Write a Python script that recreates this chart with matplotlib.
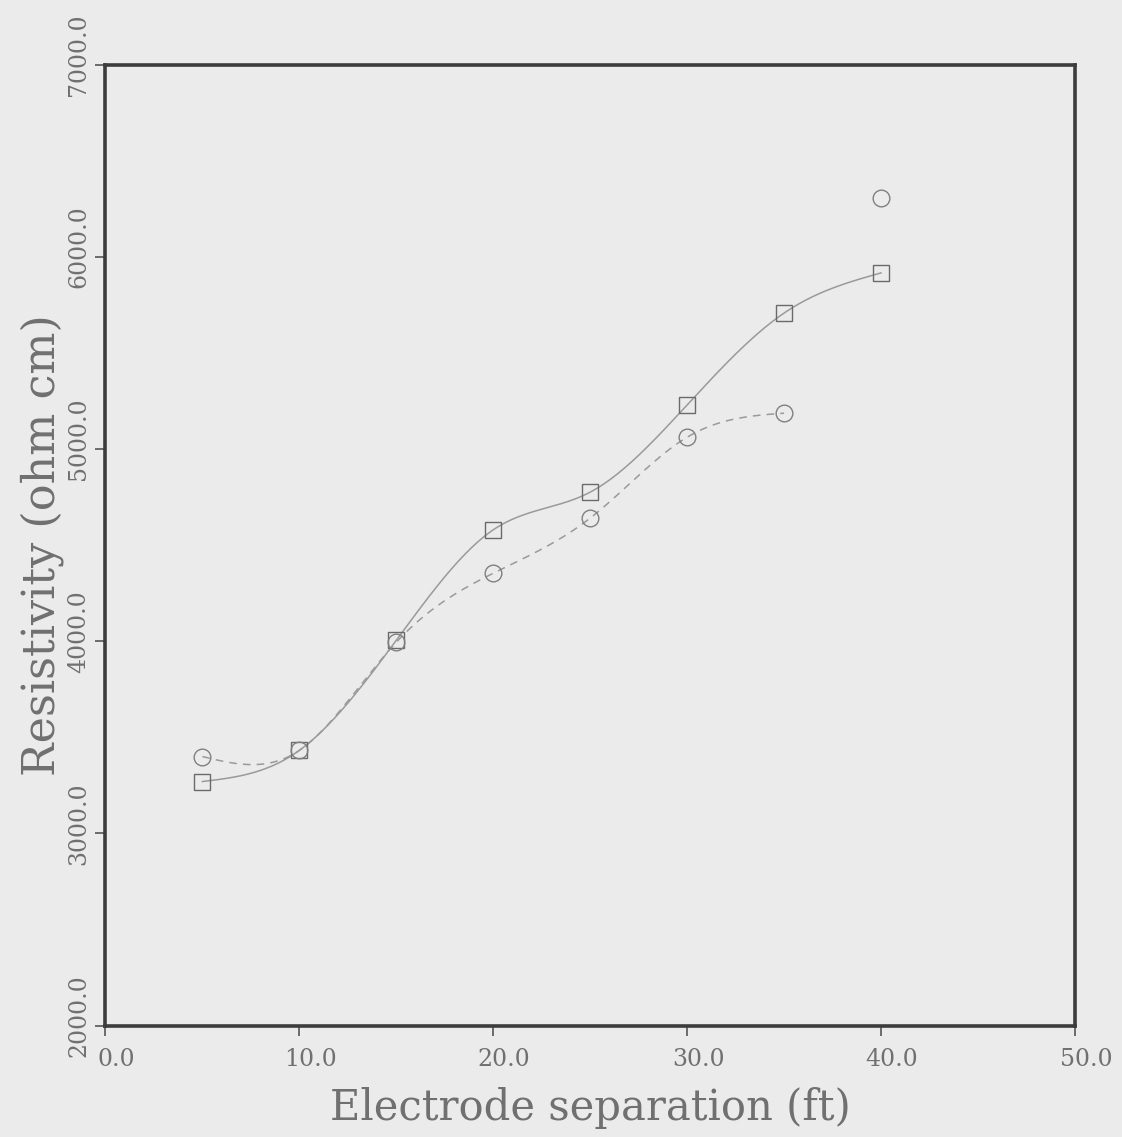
import numpy as np
import matplotlib
matplotlib.use('Agg')
import matplotlib.pyplot as plt
from matplotlib.transforms import ScaledTranslation

# electrode separation (ft)
sep_sq = [5, 10, 15, 20, 25, 30, 35, 40]
rho_sq = [3270, 3432, 4005, 4580, 4776, 5230, 5708, 5917]

sep_ci = [5, 10, 15, 20, 25, 30, 35]
rho_ci = [3400, 3432, 3995, 4354, 4641, 5062, 5187]

sep_extra = [40]
rho_extra = [6307]

xticks = [0, 10, 20, 30, 40, 50]
yticks = [2000, 3000, 4000, 5000, 6000, 7000]

BG = "#ebebeb"
INK = "#707070"
FONT = ["DejaVu Serif"]


def spline(x, y, n=300):
    # natural cubic spline, only used to draw a smooth curve through the points
    x = np.asarray(x, float); y = np.asarray(y, float)
    k = len(x); h = np.diff(x)
    A = np.zeros((k, k)); b = np.zeros(k)
    A[0, 0] = A[-1, -1] = 1
    for i in range(1, k - 1):
        A[i, i-1] = h[i-1]; A[i, i] = 2*(h[i-1] + h[i]); A[i, i+1] = h[i]
        b[i] = 3*((y[i+1]-y[i])/h[i] - (y[i]-y[i-1])/h[i-1])
    c = np.linalg.solve(A, b)
    xs = np.linspace(x[0], x[-1], n)
    idx = np.clip(np.searchsorted(x, xs) - 1, 0, k - 2)
    dx = xs - x[idx]
    bb = (y[idx+1]-y[idx])/h[idx] - h[idx]*(2*c[idx] + c[idx+1])/3
    d = (c[idx+1]-c[idx])/(3*h[idx])
    return xs, y[idx] + bb*dx + c[idx]*dx**2 + d*dx**3


fig = plt.figure(figsize=(11.22, 11.37), dpi=100)
fig.patch.set_facecolor(BG)
ax = fig.add_axes([0.094, 0.098, 0.864, 0.845])
ax.set_facecolor(BG)

xs, ys = spline(sep_sq, rho_sq)
ax.plot(xs, ys, color="#9a9a9a", lw=1.1)
xs, ys = spline(sep_ci, rho_ci)
ax.plot(xs, ys, color="#9a9a9a", lw=1.1, linestyle=(0, (5, 4)))

mk = dict(ls="none", ms=12, mfc="none", mew=1.0)
ax.plot(sep_sq, rho_sq, marker="s", mec="#6a6a6a", **mk)
ax.plot(sep_ci, rho_ci, marker="o", mec="#808080", **mk)
ax.plot(sep_extra, rho_extra, marker="o", mec="#808080", **mk)

ax.set_xlim(0, 50); ax.set_ylim(2000, 7000)
ax.set_xticks(xticks)
ax.set_xticklabels([f"{v:.1f}" for v in xticks], fontsize=17,
                   color=INK, family=FONT)
ax.set_yticks(yticks)
ax.set_yticklabels([f"{v:.1f}" for v in yticks], fontsize=17,
                   color=INK, family=FONT, rotation=90, va="center")
ax.tick_params(direction="out", length=7, width=1.2, color="#555555")
ax.tick_params(axis="x", pad=9)
ax.tick_params(axis="y", pad=4)
xshift = ScaledTranslation(11/100, 0, fig.dpi_scale_trans)
for lab in ax.get_xticklabels():
    lab.set_transform(lab.get_transform() + xshift)
yshift = ScaledTranslation(0, 10/100, fig.dpi_scale_trans)
for lab in ax.get_yticklabels():
    lab.set_transform(lab.get_transform() + yshift)
for sp in ax.spines.values():
    sp.set_linewidth(2.6); sp.set_color("#3c3c3c")

ax.set_xlabel("Electrode separation (ft)", fontsize=30, color=INK,
              family=FONT, labelpad=12)
ax.set_ylabel("Resistivity (ohm cm)", fontsize=32, color=INK, family=FONT,
              labelpad=2)

fig.savefig("out.png", dpi=100, facecolor=BG)
